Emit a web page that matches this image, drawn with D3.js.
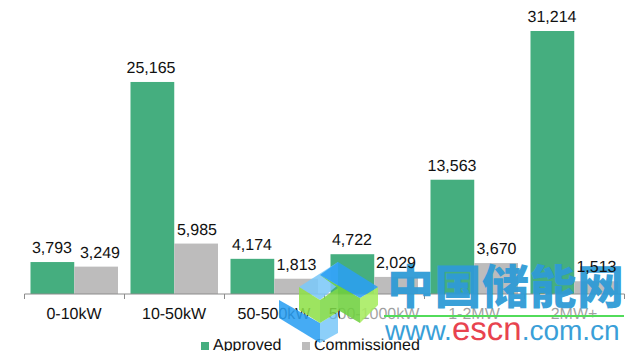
<!DOCTYPE html>
<html>
<head>
<meta charset="utf-8">
<script src="https://cdn.jsdelivr.net/npm/d3@7"></script>
<style>
  html, body { margin: 0; padding: 0; background: #fff; overflow: hidden; }
  text { font-family: "Liberation Sans", Arial, sans-serif; fill: #111; text-rendering: geometricPrecision; }
</style>
</head>
<body>
<svg id="chart" width="631" height="351"></svg>
<script>
var categories = ['0-10kW', '10-50kW', '50-500kW', '500-1000kW', '1-2MW', '2MW+']
var approved = [3793, 25165, 4174, 4722, 13563, 31214]
var commissioned = [3249, 5985, 1813, 2029, 3670, 1513]
var seriesNames = ['Approved', 'Commissioned']
var seriesColors = ['#45ae7f', '#bdbcbc']

var svg = d3.select('#chart')

var x = d3.scaleBand().domain(categories).range([24, 624])
var inner = d3.scaleBand().domain(seriesNames).range([6.5, 94])
var y = d3.scaleLinear().domain([0, 31214]).range([294, 31])

// bars
seriesNames.forEach(function(name, s) {
  var values = s == 0 ? approved : commissioned
  svg.append('g').selectAll('rect')
    .data(values).enter().append('rect')
      .attr('x', function(d, i) { return x(categories[i]) + inner(name) })
      .attr('y', function(d) { return y(d) })
      .attr('width', inner.bandwidth())
      .attr('height', function(d) { return y(0) - y(d) })
      .attr('fill', seriesColors[s])
})

// axis
var axis = svg.append('g')
  .attr('transform', 'translate(0,294)')
  .call(d3.axisBottom(x).tickSize(0).tickPadding(13.5))
axis.select('.domain').attr('stroke', '#8c8c8c').attr('d', 'M24.5,5V0H624.5V5')
axis.selectAll('text').style('font-size', '16px').style('font-family', '"Liberation Sans"')
axis.append('g').selectAll('line')
  .data(categories.slice(1)).enter().append('line')
    .attr('x1', function(d) { return x(d) + 0.5 }).attr('x2', function(d) { return x(d) + 0.5 })
    .attr('y1', 0).attr('y2', 5)
    .attr('stroke', '#8c8c8c')

// legend
var legendX = [201, 302]
seriesNames.forEach(function(name, s) {
  svg.append('rect').attr('x', legendX[s]).attr('y', 342).attr('width', 8).attr('height', 8)
    .attr('fill', seriesColors[s])
  svg.append('text').attr('x', legendX[s] + 12).attr('y', 350)
    .style('font-size', '16px').text(name)
})

// watermark, fades the labels behind it
svg.append('rect').attr('x', 340).attr('y', 301).attr('width', 291).attr('height', 24)
  .attr('fill', '#fff').attr('opacity', 0.6)

var logo = [
  ['#2b9ff2', '279,300 320,323 320,343 279,318'],
  ['#7cc8f8', '320,323 338,312 338,333 320,343'],
  ['#7cc8f8', '299,287 338,262 338,285 320,300'],
  ['#6fd03f', '320,275 360,298 360,323 338,310 338,288'],
  ['#8fe04a', '299,287 320,300 320,323 299,310'],
  ['#7ed848', '320,300 338,288 338,312 320,323'],
  ['#a6ec5e', '360,298 378,287 378,305 360,323'],
  ['#2b9ff2', '338,262 378,287 360,298 320,275']
]
svg.append('g').selectAll('polygon')
  .data(logo).enter().append('polygon')
    .attr('points', function(d) { return d[1] })
    .attr('fill', function(d) { return d[0] })
    .attr('opacity', 0.88)

svg.append('text').attr('x', 387).attr('y', 304)
  .attr('textLength', 237)
  .style('font-family', '"Noto Sans CJK SC"').style('font-weight', 900)
  .style('font-size', '47px').style('fill', '#2f9bd6').style('opacity', 0.95)
  .text('中国储能网')
svg.append('rect').attr('x', 384).attr('y', 315).attr('width', 240).attr('height', 2).attr('fill', '#52dc5a')
var url = svg.append('text').attr('x', 385).attr('y', 340)
  .style('font-size', '28px').style('fill', '#3a9fd8')
url.append('tspan').text('www.')
url.append('tspan').style('fill', '#e8434f').style('font-size', '33px').text('escn')
url.append('tspan').text('.com.cn')

// value labels, these stay readable on top of the watermark
var fmt = d3.format(',')
function labels(values, dx) {
  svg.append('g').selectAll('text')
    .data(values).enter().append('text')
      .attr('x', function(d, i) { return x(categories[i]) + dx[i] })
      .attr('y', function(d) { return y(d) - 9 })
      .attr('text-anchor', 'middle')
      .style('font-size', '16px')
      .text(fmt)
}
labels(approved, [28, 27, 28, 28, 28, 28])
labels(commissioned, [76, 73, 72.5, 72, 72.5, 72.5])
</script>
</body>
</html>
